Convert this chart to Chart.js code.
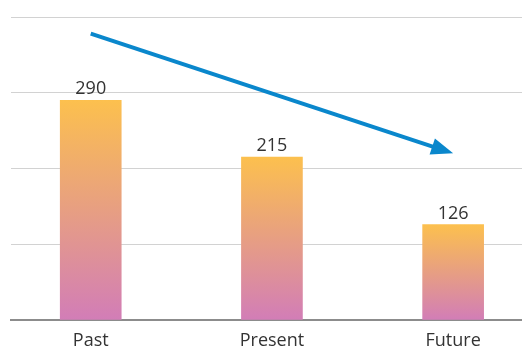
<!DOCTYPE html>
<html>
<head>
<meta charset="utf-8">
<script src="https://cdn.jsdelivr.net/npm/chart.js@4"></script>
<style>
  html, body { margin: 0; padding: 0; background: #fff; }
  #wrap { width: 522px; height: 347px; }
</style>
</head>
<body>
<div id="wrap"><canvas id="chart" width="522" height="347"></canvas></div>
<script>
const categories = ['Past', 'Present', 'Future']
const values = [290, 215, 126]
const yTicks = [0, 100, 200, 300, 400]
// trend arrow, in data units: [category index, value]
const trendFrom = [0, 378]
const trendTo = [2, 220]

const topColor = '#fcc04e'
const bottomColor = '#d27db7'

function barGradient(context) {
  const chart = context.chart
  const y = chart.scales.y
  if (!chart.chartArea || !y || context.parsed == null) return topColor
  const top = y.getPixelForValue(context.parsed.y)
  const base = y.getPixelForValue(0)
  if (!isFinite(top) || !isFinite(base)) return topColor
  const g = chart.ctx.createLinearGradient(0, top, 0, base)
  g.addColorStop(0, topColor)
  g.addColorStop(1, bottomColor)
  return g
}

const valueLabels = {
  id: 'valueLabels',
  afterDatasetsDraw(chart) {
    const ctx = chart.ctx
    const meta = chart.getDatasetMeta(0)
    ctx.save()
    ctx.font = '18px "Open Sans"'
    ctx.fillStyle = '#333333'
    ctx.textAlign = 'center'
    ctx.textBaseline = 'bottom'
    meta.data.forEach((bar, i) => {
      ctx.fillText(String(values[i]), bar.x, bar.y - 2)
    })
    ctx.restore()
  }
}

const trendArrow = {
  id: 'trendArrow',
  afterDatasetsDraw(chart) {
    const { ctx, scales } = chart
    const x1 = scales.x.getPixelForValue(trendFrom[0])
    const y1 = scales.y.getPixelForValue(trendFrom[1])
    const x2 = scales.x.getPixelForValue(trendTo[0])
    const y2 = scales.y.getPixelForValue(trendTo[1])
    const ang = Math.atan2(y2 - y1, x2 - x1)
    const headLen = 22
    const headHalf = 8.5
    const bx = x2 - headLen * Math.cos(ang)
    const by = y2 - headLen * Math.sin(ang)

    ctx.save()
    ctx.strokeStyle = '#0a87cc'
    ctx.fillStyle = '#0a87cc'
    ctx.lineWidth = 4
    ctx.beginPath()
    ctx.moveTo(x1, y1)
    ctx.lineTo(bx + 2 * Math.cos(ang), by + 2 * Math.sin(ang))
    ctx.stroke()
    ctx.beginPath()
    ctx.moveTo(x2, y2)
    ctx.lineTo(bx + headHalf * Math.sin(ang), by - headHalf * Math.cos(ang))
    ctx.lineTo(bx - headHalf * Math.sin(ang), by + headHalf * Math.cos(ang))
    ctx.closePath()
    ctx.fill()
    ctx.restore()
  }
}

const chart = new Chart(document.getElementById('chart'), {
  type: 'bar',
  data: {
    datasets: [{
      data: values.map((v, i) => ({ x: i, y: v })),
      backgroundColor: barGradient,
      borderWidth: 0,
      barThickness: 61
    }]
  },
  plugins: [valueLabels, trendArrow],
  options: {
    responsive: false,
    animation: false,
    events: [],
    layout: { padding: { left: 11, top: 17, right: 0, bottom: 0 } },
    plugins: {
      legend: { display: false },
      title: { display: false },
      tooltip: { enabled: false }
    },
    scales: {
      x: {
        type: 'linear',
        offset: false,
        min: -0.44,
        max: 2.38,
        afterBuildTicks(axis) {
          axis.ticks = categories.map((c, i) => ({ value: i }))
        },
        afterFit(axis) {
          axis.height = 27
        },
        ticks: {
          autoSkip: false,
          maxRotation: 0,
          padding: 12,
          color: '#333333',
          font: { family: 'Open Sans', size: 18, lineHeight: 1 },
          callback: (v) => categories[v]
        },
        grid: { display: false, drawTicks: false },
        border: { display: true, color: '#8c8c8c', width: 2 }
      },
      y: {
        min: 0,
        max: 400,
        afterBuildTicks(axis) {
          axis.ticks = yTicks.map(v => ({ value: v }))
        },
        ticks: { display: false },
        grid: { color: '#d2d2d2', lineWidth: 1, drawTicks: false },
        border: { display: false }
      }
    }
  }
})
</script>
</body>
</html>
